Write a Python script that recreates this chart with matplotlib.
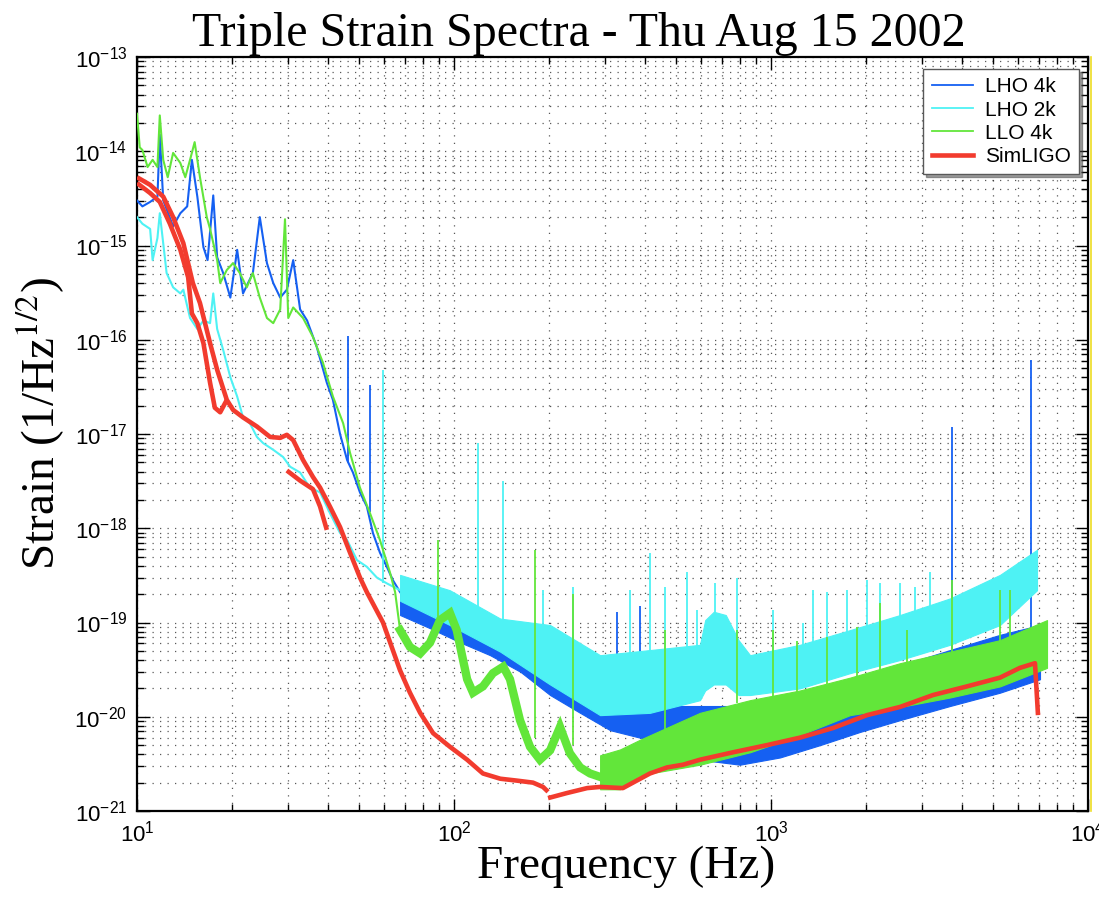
import numpy as np
import matplotlib
matplotlib.use("Agg")
import matplotlib.pyplot as plt
from matplotlib.lines import Line2D
from matplotlib.ticker import LogLocator, LogFormatterSciNotation, NullFormatter

# --- LHO 4k (blue) ---
lho4k_f = [10, 10.4, 11.0, 11.6, 11.8, 12.1, 13.0, 13.7, 14.4, 14.9, 15.5, 16.2, 16.7, 17.4, 17.9, 18.7,
           19.7, 20.7, 21.6, 23.2, 24.4, 25.7, 26.9, 28.3, 29.7, 31.1, 32.7, 34.4, 36.9, 39.7, 41.5,
           43.7, 46.0, 48.0, 50.5, 53.1, 55.5, 58.4, 61.4, 64.2, 67.6]
lho4k_s = [3.0e-15, 2.6e-15, 2.9e-15, 3.3e-15, 1.5e-14, 3.0e-15, 1.6e-15, 2.2e-15, 2.6e-15, 8.1e-15, 3.3e-15,
           9.6e-16, 7.0e-16, 3.4e-15, 7.5e-16, 5.1e-16, 2.8e-16, 9.0e-16, 3.1e-16, 5.1e-16, 2.0e-15, 6.5e-16,
           4.0e-16, 2.8e-16, 3.4e-16, 7.0e-16, 2.1e-16, 1.6e-16, 8.4e-17, 3.5e-17, 2.3e-17, 1.0e-17, 5.3e-18,
           3.9e-18, 2.4e-18, 1.7e-18, 8.9e-19, 5.5e-19, 3.9e-19, 2.8e-19, 2.1e-19]
lho4k_band_f = [67.6, 84, 104, 130, 162, 201, 250, 311, 386, 480, 597, 798, 1068, 1428, 1909, 2552, 3670, 5277, 7057]
lho4k_band_hi = [2.0e-19, 1.6e-19, 1.3e-19, 1.1e-19, 7.9e-20, 5.1e-20, 3.0e-20, 1.9e-20, 1.3e-20, 1.3e-20, 1.3e-20,
                 1.3e-20, 1.6e-20, 2.0e-20, 2.6e-20, 3.5e-20, 5.1e-20, 7.4e-20, 9.4e-20]
lho4k_band_lo = [1.2e-19, 8.7e-20, 6.2e-20, 4.5e-20, 3.0e-20, 1.7e-20, 1.1e-20, 7.2e-21, 6.0e-21, 5.4e-21, 3.5e-21,
                 3.1e-21, 3.7e-21, 5.0e-21, 6.9e-21, 9.2e-21, 1.3e-20, 1.8e-20, 2.5e-20]
lho4k_spike_f = [46.3, 54.3, 237, 327, 386, 3724, 6607]
lho4k_spike_top = [1.1e-16, 3.3e-17, 2.0e-19, 1.3e-19, 1.5e-19, 1.2e-17, 6.1e-17]
lho4k_spike_base = [5e-18, 1.5e-18, 2.5e-20, 1.8e-20, 1.5e-20, 2.5e-20, 5e-20]

# --- LHO 2k (cyan) ---
lho2k_f = [10, 10.4, 11.0, 11.2, 11.6, 11.8, 12.4, 13.0, 13.7, 14.0, 14.7, 15.5, 16.2, 17.0, 17.4, 17.9, 18.7,
           19.7, 20.7, 21.6, 22.7, 23.9, 25.0, 26.9, 28.9, 30.4, 32.7, 35.1, 37.8, 40.6, 43.7, 46.0, 49.4,
           53.1, 57.1, 61.4, 67.6]
lho2k_s = [2.0e-15, 1.7e-15, 1.5e-15, 7.0e-16, 1.2e-15, 2.2e-15, 5.1e-16, 3.6e-16, 3.1e-16, 3.4e-16, 1.7e-16,
           1.3e-16, 1.6e-16, 1.5e-16, 3.1e-16, 1.3e-16, 7.8e-17, 4.0e-17, 2.5e-17, 1.5e-17, 1.3e-17, 9.3e-18,
           8.0e-18, 6.8e-18, 5.7e-18, 4.5e-18, 3.9e-18, 2.7e-18, 2.4e-18, 1.45e-18, 8.9e-19, 7.5e-19, 4.6e-19,
           3.9e-19, 3.0e-19, 2.6e-19, 2.2e-19]
lho2k_band_f = [67.6, 97, 140, 201, 289, 415, 597, 620, 660, 720, 790, 859, 1234, 1775, 2552, 3670, 5277, 6904]
lho2k_band_hi = [3.2e-19, 2.2e-19, 1.1e-19, 9.4e-20, 4.5e-20, 5.1e-20, 5.8e-20, 1.06e-19, 1.3e-19, 1.2e-19,
                 6.5e-20, 4.5e-20, 5.8e-20, 8.3e-20, 1.2e-19, 1.8e-19, 3.2e-19, 5.9e-19]
lho2k_band_lo = [1.7e-19, 9.4e-20, 4.9e-20, 2.2e-20, 1.04e-20, 1.1e-20, 1.5e-20, 1.9e-20, 2.2e-20, 2.2e-20,
                 1.7e-20, 1.7e-20, 2.0e-20, 2.9e-20, 4.0e-20, 5.8e-20, 9.4e-20, 2.2e-19]
lho2k_spike_f = [59.7, 119, 143, 191, 237, 359, 415, 463, 543, 584, 664, 781, 1015, 1262, 1357, 1502, 1737,
                 2008, 2207, 2552, 2845, 3174]
lho2k_spike_top = [4.8e-17, 8.0e-18, 3.2e-18, 2.2e-19, 2.4e-19, 2.2e-19, 5.5e-19, 2.4e-19, 3.4e-19, 1.36e-19,
                   2.6e-19, 3.0e-19, 1.36e-19, 1.0e-19, 2.2e-19, 2.1e-19, 2.2e-19, 2.8e-19, 2.6e-19, 2.6e-19,
                   2.4e-19, 3.4e-19]
lho2k_spike_base = [2.6e-19, 8e-20, 6e-20, 4e-20, 3e-20, 3e-20, 3e-20, 3e-20, 3e-20, 3e-20, 3e-20, 3e-20,
                    3e-20, 3e-20, 3e-20, 3e-20, 4e-20, 4e-20, 4e-20, 5e-20, 5e-20, 6e-20]

# --- LLO 4k (green) ---
llo4k_f = [10, 10.2, 10.4, 10.8, 11.2, 11.6, 11.8, 12.1, 12.5, 13.0, 13.7, 14.2, 14.7, 15.2, 15.8, 16.6, 17.0,
           17.9, 18.3, 19.2, 20.1, 21.1, 22.2, 23.2, 24.4, 25.7, 26.9, 28.3, 29.3, 30.0, 31.1, 33.4, 35.9,
           38.6, 41.5, 44.7, 47.0, 50.5, 54.3, 58.4, 62.8, 65.2, 67.6]
llo4k_s = [2.5e-14, 1.1e-14, 1.03e-14, 6.8e-15, 8.1e-15, 6.8e-15, 2.4e-14, 8.1e-15, 5.3e-15, 9.6e-15, 7.5e-15,
           5.3e-15, 8.1e-15, 1.25e-14, 5.3e-15, 2.0e-15, 1.5e-15, 7.0e-16, 4.0e-16, 5.5e-16, 6.5e-16, 5.1e-16,
           3.6e-16, 5.1e-16, 2.8e-16, 1.7e-16, 1.5e-16, 2.1e-16, 1.9e-15, 1.7e-16, 2.2e-16, 1.7e-16, 1.07e-16,
           5.7e-17, 2.5e-17, 1.3e-17, 6.3e-18, 2.7e-18, 1.45e-18, 7.5e-19, 3.4e-19, 2.1e-19, 8.3e-20]
llo4k_mid_f = [67.6, 72.6, 78.2, 84.0, 90.3, 97.1, 102, 110, 114.8, 123.4, 132.7, 143, 150.2, 161.5, 173.7,
               186.7, 201, 216, 232, 250, 268.7, 289, 311, 334, 359, 386]
llo4k_mid_s = [8.3e-20, 5.5e-20, 4.7e-20, 6.1e-20, 1.06e-19, 1.26e-19, 8.3e-20, 2.5e-20, 1.8e-20, 2.1e-20,
               2.9e-20, 3.4e-20, 2.5e-20, 9.2e-21, 4.8e-21, 3.5e-21, 4.4e-21, 7.8e-21, 4.1e-21, 2.9e-21,
               2.5e-21, 2.3e-21, 2.1e-21, 2.5e-21, 2.9e-21, 3.5e-21]
llo4k_band_f = [289, 334, 386, 597, 859, 1234, 1775, 2552, 3670, 5277, 7425]
llo4k_band_hi = [3.9e-21, 4.5e-21, 5.7e-21, 1.1e-20, 1.5e-20, 1.9e-20, 2.6e-20, 3.7e-20, 4.9e-20, 6.5e-20, 1.06e-19]
llo4k_band_lo = [1.7e-21, 1.7e-21, 2.4e-21, 3.1e-21, 4.2e-21, 6.4e-21, 1.04e-20, 1.27e-20, 1.6e-20, 2.1e-20, 3.3e-20]
llo4k_spike_f = [89, 180, 237, 463, 781, 1015, 1208, 1502, 1867, 2207, 2687, 3724, 5277, 5666]
llo4k_spike_top = [7.5e-19, 5.9e-19, 2.0e-19, 8.3e-20, 8.3e-20, 8.3e-20, 6.3e-20, 7.0e-20, 9.0e-20, 1.6e-19,
                   8.3e-20, 2.8e-19, 2.2e-19, 2.2e-19]
llo4k_spike_base = [1e-19, 6e-21, 5e-21, 6e-21, 1.4e-20, 1.6e-20, 1.8e-20, 2.2e-20, 2.5e-20, 3.0e-20, 3.5e-20,
                    4.5e-20, 6.0e-20, 6.5e-20]

# --- SimLIGO (red), drawn in pieces ---
sim_a_f = [10, 11.0, 12.1, 13.0, 14.0, 15.0, 15.8, 17.0, 17.9, 19.2, 20.1, 21.6, 23.9, 26.3, 28.3, 29.7, 31.1,
           33.4, 35.9, 37.8, 40.6, 43.7, 47.0, 50.5, 53.1, 59.7, 67.6, 72.6, 78.2, 85.9, 97.1, 110, 123.4,
           140, 158, 177.5, 190.9, 198]
sim_a_s = [5.3e-15, 4.4e-15, 3.3e-15, 2.0e-15, 1.06e-15, 4.0e-16, 2.45e-16, 9.2e-17, 4.8e-17, 2.3e-17, 1.8e-17,
           1.5e-17, 1.2e-17, 9.3e-18, 9.1e-18, 9.8e-18, 8.6e-18, 5.3e-18, 3.5e-18, 2.7e-18, 1.7e-18, 1.03e-18,
           5.5e-19, 3.0e-19, 2.1e-19, 1.0e-19, 3.1e-20, 1.8e-20, 1.1e-20, 6.7e-21, 4.8e-21, 3.5e-21, 2.5e-21,
           2.2e-21, 2.1e-21, 2.0e-21, 1.8e-21, 1.6e-21]
sim_b_f = [10, 11.0, 11.8, 12.7, 13.7, 14.5, 14.9, 15.5, 16.2, 17.0, 17.6, 18.3, 19.2]
sim_b_s = [4.6e-15, 3.6e-15, 2.9e-15, 1.7e-15, 9.0e-16, 4.6e-16, 1.9e-16, 1.5e-16, 9.2e-17, 3.5e-17, 1.9e-17,
           1.7e-17, 2.3e-17]
sim_c_f = [29.7, 32.7, 35.9, 37.8, 39.7]
sim_c_s = [4.1e-18, 3.2e-18, 2.6e-18, 1.7e-18, 9.6e-19]
sim_d_f = [198, 227, 263, 289, 341, 367, 415, 470, 528, 597, 760, 971, 1234, 1570, 2008, 2552, 3245, 4153,
           5277, 6098, 6804, 6955]
sim_d_s = [1.37e-21, 1.55e-21, 1.75e-21, 1.8e-21, 1.75e-21, 2.0e-21, 2.5e-21, 2.9e-21, 3.1e-21, 3.5e-21,
           4.2e-21, 5.0e-21, 6.0e-21, 7.6e-21, 1.04e-20, 1.27e-20, 1.7e-20, 2.1e-20, 2.6e-20, 3.3e-20,
           3.7e-20, 1.04e-20]

x_ticks = [1e1, 1e2, 1e3, 1e4]
y_ticks = [1e-21, 1e-20, 1e-19, 1e-18, 1e-17, 1e-16, 1e-15, 1e-14, 1e-13]
labels = ["LHO 4k", "LHO 2k", "LLO 4k", "SimLIGO"]
colors = ["#1560f2", "#4ef2f4", "#62e63a", "#f23b2e"]

plt.rcParams['font.family'] = ['Liberation Sans', 'DejaVu Sans']
plt.rcParams['mathtext.fontset'] = 'custom'
plt.rcParams['mathtext.rm'] = 'Liberation Sans'
plt.rcParams['axes.unicode_minus'] = False


def draw_detector(ax, col, f, s, bands, sf, stop, sbase):
    ax.plot(f, s, color=col, lw=1.5, zorder=3)
    for bf, blo, bhi in bands:
        ax.fill_between(bf, blo, bhi, color=col, lw=0.8, zorder=3)
    ax.vlines(sf, sbase, stop, color=col, lw=1.3, zorder=3)


fig = plt.figure(figsize=(10.99, 9.17), dpi=100)
ax = fig.add_axes([137 / 1099, 1 - 811 / 917, 951 / 1099, 754 / 917])
ax.set_xscale('log'); ax.set_yscale('log')

draw_detector(ax, colors[0], lho4k_f, lho4k_s, [(lho4k_band_f, lho4k_band_lo, lho4k_band_hi)],
              lho4k_spike_f, lho4k_spike_top, lho4k_spike_base)
draw_detector(ax, colors[1], lho2k_f, lho2k_s, [(lho2k_band_f, lho2k_band_lo, lho2k_band_hi)],
              lho2k_spike_f, lho2k_spike_top, lho2k_spike_base)
draw_detector(ax, colors[2], llo4k_f, llo4k_s, [(llo4k_band_f, llo4k_band_lo, llo4k_band_hi)],
              llo4k_spike_f, llo4k_spike_top, llo4k_spike_base)
ax.plot(llo4k_mid_f, llo4k_mid_s, color=colors[2], lw=6, solid_joinstyle='miter', zorder=3)
for f, s in [(sim_a_f, sim_a_s), (sim_b_f, sim_b_s), (sim_c_f, sim_c_s), (sim_d_f, sim_d_s)]:
    ax.plot(f, s, color=colors[3], lw=3.3, solid_capstyle='butt', zorder=4)

ax.set_xlim(10, 1e4)
ax.set_ylim(1e-21, 1e-13)
ax.set_xticks(x_ticks)
ax.set_yticks(y_ticks)
ax.xaxis.set_minor_locator(LogLocator(base=10, subs=np.arange(2, 10), numticks=50))
ax.yaxis.set_minor_locator(LogLocator(base=10, subs=np.arange(2, 10), numticks=50))
ax.xaxis.set_minor_formatter(NullFormatter())
ax.yaxis.set_minor_formatter(NullFormatter())
ax.xaxis.set_major_formatter(LogFormatterSciNotation())
ax.yaxis.set_major_formatter(LogFormatterSciNotation())
ax.tick_params(which='both', direction='in', top=True, right=True, labelsize=16, width=1)
ax.tick_params(which='major', length=9, pad=7)
ax.tick_params(which='minor', length=5)
ax.grid(True, which='both', color='k', lw=0.9, ls=(0, (1, 5)), alpha=0.65)
ax.set_axisbelow(True)
for sp in ax.spines.values():
    sp.set_linewidth(1.6)

handles = [Line2D([], [], color=c, lw=(3.3 if i == 3 else 1.3)) for i, c in enumerate(colors)]
leg = ax.legend(handles, labels, loc='upper right', bbox_to_anchor=(1 - 9 / 951, 1 - 12 / 754),
                borderaxespad=0, fontsize=15, labelspacing=0.2, handlelength=2.0, handletextpad=0.55,
                borderpad=0.4, fancybox=False, shadow={'color': '0.25'}, framealpha=1)
leg.get_frame().set_edgecolor('0.35')
leg.get_frame().set_linewidth(1.0)

# thin yellow edge just right of the frame, as in the source image
fig.add_artist(Line2D([1090.5 / 1099] * 2, [1 - 811 / 917, 1 - 57 / 917], color='#eedd22', lw=1.2))

serif = ['Liberation Serif', 'DejaVu Serif']
fig.text(579 / 1099, 1 - 46 / 917, "Triple Strain Spectra - Thu Aug 15 2002", family=serif, fontsize=34.5,
         ha='center', va='baseline')
fig.text(626 / 1099, 1 - 878 / 917, "Frequency (Hz)", family=serif, fontsize=34, ha='center', va='baseline')
fig.text(40 / 1099, 1 - 423 / 917, "Strain (1/Hz$^{1/2}$)", family=serif, fontsize=34, rotation=90,
         ha='center', va='center', math_fontfamily='stix')

fig.savefig("out.png", dpi=100)
